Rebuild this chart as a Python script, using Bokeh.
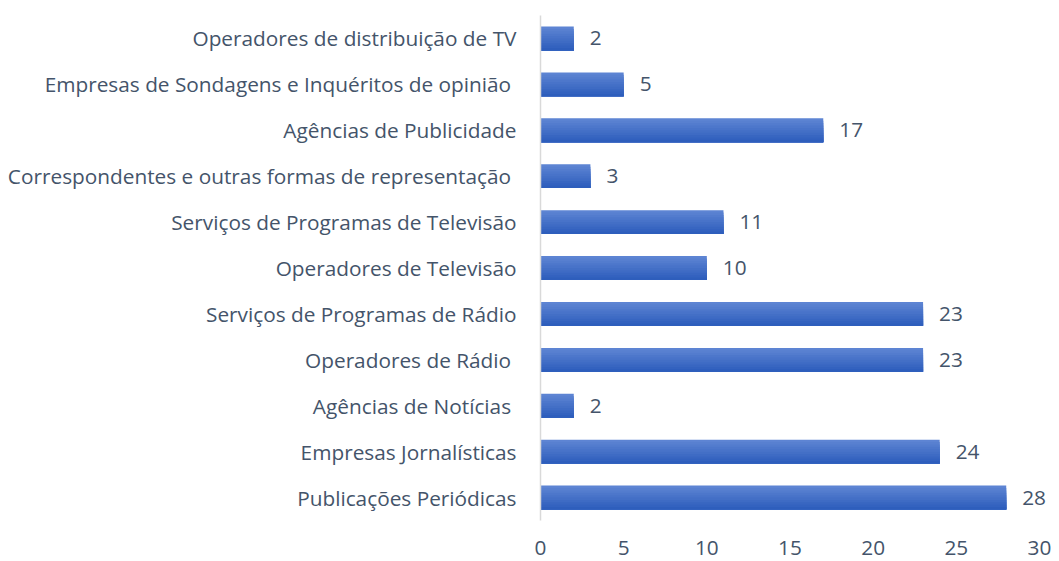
from bokeh.plotting import figure
from bokeh.models import FactorRange, ColumnDataSource, FixedTicker
from bokeh.transform import dodge
from bokeh.core.properties import value
from bokeh.embed import file_html
from bokeh.resources import INLINE

categories = [
    "Operadores de distribuição de TV",
    "Empresas de Sondagens e Inquéritos de opinião ",
    "Agências de Publicidade",
    "Correspondentes e outras formas de representação ",
    "Serviços de Programas de Televisão",
    "Operadores de Televisão",
    "Serviços de Programas de Rádio",
    "Operadores de Rádio ",
    "Agências de Notícias ",
    "Empresas Jornalísticas",
    "Publicações Periódicas",
]
values = [2, 5, 17, 3, 11, 10, 23, 23, 2, 24, 28]
x_ticks = [0, 5, 10, 15, 20, 25, 30]

FONT = "Open Sans"
TEXT = "#44546A"
FS = "20.8px"

src = ColumnDataSource(dict(cat=categories, val=values, lab=[str(v) for v in values]))

frame_w = 516
p = figure(
    width=1059, height=561,
    y_range=FactorRange(factors=list(reversed(categories))),
    x_range=(0, 30 * frame_w / 499),
    output_backend="svg", toolbar_location=None,
    min_border_left=540, min_border_right=1059 - 540 - frame_w,
    min_border_top=15, min_border_bottom=41,
)
p.outline_line_color = None
p.background_fill_color = "white"
p.border_fill_color = "white"
p.xgrid.grid_line_color = None
p.ygrid.grid_line_color = None

# gradient bars via overlapping stripes (top light -> bottom dark)
n = 10
bar_h = 0.52
top = (93, 132, 211)
bot = (46, 94, 188)
sh = bar_h / n
for i in range(n):
    t = i / (n - 1)
    c = tuple(int(round(top[k] + (bot[k] - top[k]) * t)) for k in range(3))
    col = "#%02x%02x%02x" % c
    h = bar_h - i * sh
    off = -bar_h / 2 + h / 2
    p.hbar(y=dodge("cat", off, range=p.y_range), right="val", left=0, height=h,
           source=src, fill_color=col, line_color=None)

p.text(x="val", y="cat", text="lab", source=src, x_offset=16,
       text_align="left", text_baseline="middle",
       text_font=value(FONT), text_font_size=FS, text_color=TEXT)

p.xaxis.ticker = FixedTicker(ticks=x_ticks)
p.xaxis.axis_line_color = None
p.xaxis.major_tick_line_color = None
p.xaxis.minor_tick_line_color = None
p.xaxis.major_label_text_font = FONT
p.xaxis.major_label_text_font_size = FS
p.xaxis.major_label_text_color = TEXT
p.xaxis.major_label_standoff = 14

p.yaxis.axis_line_color = "#D9D9D9"
p.yaxis.axis_line_width = 1.5
p.yaxis.major_tick_line_color = None
p.yaxis.minor_tick_line_color = None
p.yaxis.major_label_text_font = FONT
p.yaxis.major_label_text_font_size = FS
p.yaxis.major_label_text_color = TEXT
p.yaxis.major_label_standoff = 18

open("out.html", "w").write(file_html(p, INLINE))
